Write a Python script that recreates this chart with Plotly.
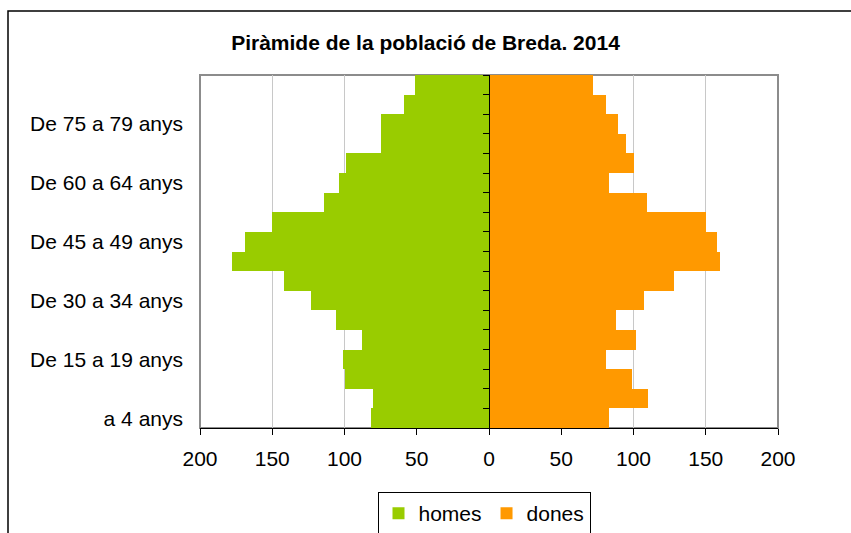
import plotly.graph_objects as go

age_groups = ["0-4", "5-9", "10-14", "15-19", "20-24", "25-29", "30-34", "35-39", "40-44",
              "45-49", "50-54", "55-59", "60-64", "65-69", "70-74", "75-79", "80-84", "85+"]
homes = [82, 80, 100, 101, 88, 106, 123, 142, 178, 169, 150, 114, 104, 99, 75, 75, 59, 51]
dones = [83, 110, 99, 81, 102, 88, 107, 128, 160, 158, 150, 109, 83, 100, 95, 89, 81, 72]
label_positions = [0, 3, 6, 9, 12, 15]
label_texts = ["a 4 anys", "De 15 a 19 anys", "De 30 a 34 anys", "De 45 a 49 anys",
               "De 60 a 64 anys", "De 75 a 79 anys"]
x_ticks = [-200, -150, -100, -50, 0, 50, 100, 150, 200]

ypos = list(range(len(age_groups)))

fig = go.Figure()
fig.add_trace(go.Bar(y=ypos, x=[-v for v in homes], orientation="h", name="homes",
                     marker=dict(color="#99cc00", line=dict(width=0)),
                     customdata=list(zip(age_groups, homes)),
                     hovertemplate="%{customdata[0]}: %{customdata[1]}<extra>homes</extra>"))
fig.add_trace(go.Bar(y=ypos, x=dones, orientation="h", name="dones",
                     marker=dict(color="#ff9900", line=dict(width=0)),
                     customdata=age_groups, hovertemplate="%{customdata}: %{x}<extra>dones</extra>"))
# helper trace for the central axis
fig.add_trace(go.Scatter(x=[0, 0], y=[-0.5, len(age_groups) - 0.5], yaxis="y2",
                         mode="lines", line=dict(width=0), showlegend=False, hoverinfo="skip"))

n = len(age_groups)
L, R, T, B = 200, 778, 75, 428
W, H = R - L, B - T
fig.update_layout(
    width=851, height=533,
    margin=dict(l=L, r=851 - R, t=T, b=533 - B, autoexpand=False),
    paper_bgcolor="white", plot_bgcolor="white",
    barmode="relative", bargap=0,
    font=dict(family="Liberation Sans, Arial, sans-serif", size=21, color="black"),
    title=dict(text="<b>Piràmide de la població de Breda. 2014</b>", x=0.5, xanchor="center",
               y=1 - 43 / 533, yanchor="middle", font=dict(size=21, color="black")),
    xaxis=dict(range=[-200, 200], tickvals=x_ticks, ticktext=[str(abs(v)) for v in x_ticks],
               showgrid=True, gridcolor="#c8c8c8", gridwidth=1, zeroline=False,
               showline=True, linecolor="black", linewidth=1, automargin=False,
               ticks="outside", ticklen=6, tickcolor="black", ticklabelstandoff=6,
               tickfont=dict(size=21)),
    yaxis=dict(range=[-0.5, n - 0.5], tickvals=label_positions, ticktext=label_texts,
               showgrid=False, zeroline=False, showline=False, ticks="", ticklabelstandoff=16,
               automargin=False, tickfont=dict(size=21)),
    yaxis2=dict(range=[-0.5, n - 0.5], overlaying="y", anchor="free", position=0.5,
                tickvals=[i - 0.5 for i in range(n + 1)], showticklabels=False, automargin=False,
                ticks="outside", ticklen=6, tickcolor="black", showgrid=False, zeroline=False,
                showline=True, linecolor="black", linewidth=1),
    legend=dict(orientation="h", x=(484 - L) / W, xanchor="center",
                y=(B - 492) / H, yanchor="top",
                bordercolor="black", borderwidth=1, bgcolor="white",
                font=dict(size=21), itemwidth=30, traceorder="normal"),
    shapes=[
        dict(type="rect", xref="x domain", yref="y domain", x0=0, x1=1, y0=0, y1=1,
             line=dict(color="#8c8c8c", width=2), layer="below"),
        dict(type="rect", xref="paper", yref="paper",
             x0=(8 - L) / W, x1=(900 - L) / W,
             y0=(B - 600) / H, y1=(B - 11) / H,
             line=dict(color="black", width=1.5), layer="below"),
    ],
)

fig.write_html("out.html", config={"displayModeBar": False},
               post_script="document.body.style.margin='0';")
